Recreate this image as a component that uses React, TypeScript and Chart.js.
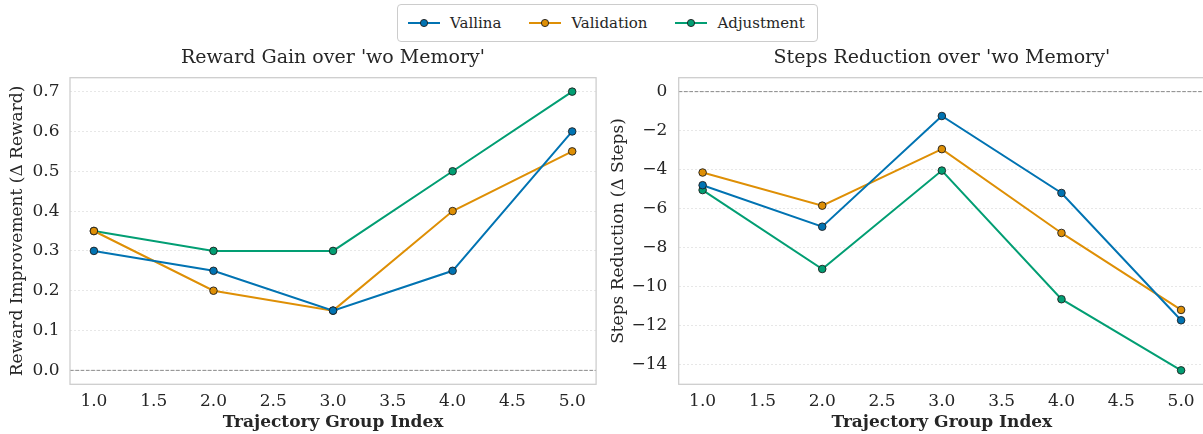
import React, { useEffect, useRef } from "react";
import { Chart, registerables } from "chart.js";

Chart.register(...registerables);

// ---------------- data ----------------
const xValues = [1, 2, 3, 4, 5];
const seriesNames = ["Vallina", "Validation", "Adjustment"];
const seriesColors = ["#0173b2", "#de8f05", "#029e73"];

const rewardVallina = [0.3, 0.25, 0.15, 0.25, 0.6];
const rewardValidation = [0.35, 0.2, 0.15, 0.4, 0.55];
const rewardAdjustment = [0.35, 0.3, 0.3, 0.5, 0.7];

const stepsVallina = [-4.8, -6.93, -1.25, -5.2, -11.73];
const stepsValidation = [-4.15, -5.85, -2.95, -7.25, -11.2];
const stepsAdjustment = [-5.05, -9.1, -4.05, -10.65, -14.3];

const xTicks = [1, 1.5, 2, 2.5, 3, 3.5, 4, 4.5, 5];
const rewardTicks = [0, 0.1, 0.2, 0.3, 0.4, 0.5, 0.6, 0.7];
const stepsTicks = [0, -2, -4, -6, -8, -10, -12, -14];

const leftTitle = "Reward Gain over 'wo Memory'";
const rightTitle = "Steps Reduction over 'wo Memory'";
const leftYLabel = "Reward Improvement (\u0394 Reward)";
const rightYLabel = "Steps Reduction (\u0394 Steps)";
const xLabel = "Trajectory Group Index";

// ---------------- style ----------------
const FONT = "'DejaVu Serif', serif";
const TEXT = "#262626";

const framePlugin = {
  id: "frameAndZero",
  beforeDatasetsDraw(chart: any) {
    const { ctx, chartArea: a, scales } = chart;
    const y0 = scales.y.getPixelForValue(0);
    ctx.save();
    ctx.strokeStyle = "#8a8a8a";
    ctx.lineWidth = 1;
    ctx.setLineDash([3.7, 1.6]);
    ctx.beginPath();
    ctx.moveTo(a.left, y0);
    ctx.lineTo(a.right, y0);
    ctx.stroke();
    ctx.restore();
  },
  afterDraw(chart: any) {
    const { ctx, chartArea: a } = chart;
    ctx.save();
    ctx.strokeStyle = "#cccccc";
    ctx.lineWidth = 1.25;
    ctx.strokeRect(a.left, a.top, a.right - a.left, a.bottom - a.top);
    ctx.restore();
  },
};

interface PanelOpts {
  title: string;
  yLabel: string;
  series: number[][];
  yMin: number;
  yMax: number;
  yTicks: number[];
  fmt: (v: number) => string;
  yWidth: number;
  padRight: number;
  yTickPad: number;
}

function makeChart(canvas: HTMLCanvasElement, o: PanelOpts) {
  return new Chart(canvas, {
    type: "line",
    data: {
      datasets: o.series.map((vals, i) => ({
        label: seriesNames[i],
        data: xValues.map((x, j) => ({ x, y: vals[j] })),
        borderColor: seriesColors[i],
        backgroundColor: seriesColors[i],
        pointBackgroundColor: seriesColors[i],
        pointBorderColor: "#1e1e1e",
        pointBorderWidth: 0.9,
        pointRadius: 3.8,
        borderWidth: 2,
        tension: 0,
        fill: false,
      })),
    },
    options: {
      animation: false,
      responsive: false,
      devicePixelRatio: 1,
      layout: { padding: { left: 0, right: o.padRight, top: 0, bottom: 0 } },
      plugins: {
        legend: { display: false },
        tooltip: { enabled: false },
        title: {
          display: true,
          text: o.title,
          fullSize: false,
          color: TEXT,
          font: { family: FONT, size: 19, weight: "normal" },
          padding: { top: 46.3, bottom: 8.6 },
        },
      },
      scales: {
        x: {
          type: "linear",
          position: "bottom",
          min: 0.8,
          max: 5.2,
          afterFit: (s: any) => {
            s.height = 49.7;
          },
          afterBuildTicks: (s: any) => {
            s.ticks = xTicks.map((v) => ({ value: v }));
          },
          grid: { display: false, drawTicks: false },
          border: { display: false },
          ticks: {
            autoSkip: false,
            maxRotation: 0,
            padding: 7.3,
            color: TEXT,
            font: { family: FONT, size: 17 },
            callback: (v: any) => Number(v).toFixed(1),
          },
          title: {
            display: true,
            text: xLabel,
            color: TEXT,
            font: { family: FONT, size: 17, weight: "bold" },
            padding: { top: 0, bottom: 1.4 },
          },
        },
        y: {
          type: "linear",
          position: "left",
          min: o.yMin,
          max: o.yMax,
          afterFit: (s: any) => {
            s.width = o.yWidth;
          },
          afterBuildTicks: (s: any) => {
            s.ticks = o.yTicks.map((v) => ({ value: v }));
          },
          grid: {
            display: true,
            drawTicks: false,
            color: "rgba(0,0,0,0.12)",
            lineWidth: 0.8,
          },
          border: { display: false, dash: [2, 2] },
          ticks: {
            padding: o.yTickPad,
            color: TEXT,
            font: { family: FONT, size: 17 },
            callback: (v: any) => o.fmt(Number(v)),
          },
          title: {
            display: true,
            text: o.yLabel,
            color: TEXT,
            font: { family: FONT, size: 17, weight: "normal" },
            padding: { top: 7.3, bottom: 0 },
          },
        },
      },
    } as any,
    plugins: [framePlugin],
  });
}

function LegendSample({ color }: { color: string }) {
  return (
    <svg width={32} height={12} style={{ display: "block" }}>
      <line x1={0} y1={6} x2={32} y2={6} stroke={color} strokeWidth={2} />
      <circle cx={16} cy={6} r={3.6} fill={color} stroke="#1e1e1e" strokeWidth={0.9} />
    </svg>
  );
}

export default function App() {
  const leftRef = useRef<HTMLCanvasElement>(null);
  const rightRef = useRef<HTMLCanvasElement>(null);

  useEffect(() => {
    const left = makeChart(leftRef.current!, {
      title: leftTitle,
      yLabel: leftYLabel,
      series: [rewardVallina, rewardValidation, rewardAdjustment],
      yMin: -0.035,
      yMax: 0.735,
      yTicks: rewardTicks,
      fmt: (v) => v.toFixed(1),
      yWidth: 70,
      padRight: 4.3,
      yTickPad: 10.5,
    });
    const right = makeChart(rightRef.current!, {
      title: rightTitle,
      yLabel: rightYLabel,
      series: [stepsVallina, stepsValidation, stepsAdjustment],
      yMin: -15.015,
      yMax: 0.715,
      yTicks: stepsTicks,
      fmt: (v) => (Math.abs(v) < 1e-9 ? "0" : v < 0 ? "\u2212" + Math.abs(v) : String(v)),
      yWidth: 77.7,
      padRight: 8,
      yTickPad: 11.3,
    });
    return () => {
      left.destroy();
      right.destroy();
    };
  }, []);

  return (
    <div
      style={{
        position: "absolute",
        left: 0,
        top: 0,
        width: 1203,
        height: 434,
        overflow: "hidden",
        background: "#ffffff",
      }}
    >
      <canvas
        ref={leftRef}
        width={601}
        height={434}
        style={{ position: "absolute", left: 0, top: 0, width: 601, height: 434 }}
      />
      <canvas
        ref={rightRef}
        width={612}
        height={434}
        style={{ position: "absolute", left: 601, top: 0, width: 612, height: 434 }}
      />
      <div
        style={{
          position: "absolute",
          left: 397,
          top: 4,
          width: 421,
          height: 38,
          border: "1px solid #cccccc",
          borderRadius: 4,
          background: "#ffffff",
          display: "flex",
          alignItems: "center",
          boxSizing: "border-box",
          paddingLeft: 10,
          fontFamily: FONT,
          fontSize: 15,
          color: TEXT,
        }}
      >
        {seriesNames.map((name, i) => (
          <div
            key={name}
            style={{
              display: "flex",
              alignItems: "center",
              marginRight: i < seriesNames.length - 1 ? 28 : 0,
              whiteSpace: "nowrap",
            }}
          >
            <LegendSample color={seriesColors[i]} />
            <span style={{ marginLeft: 10, lineHeight: "18px" }}>{name}</span>
          </div>
        ))}
      </div>
    </div>
  );
}
